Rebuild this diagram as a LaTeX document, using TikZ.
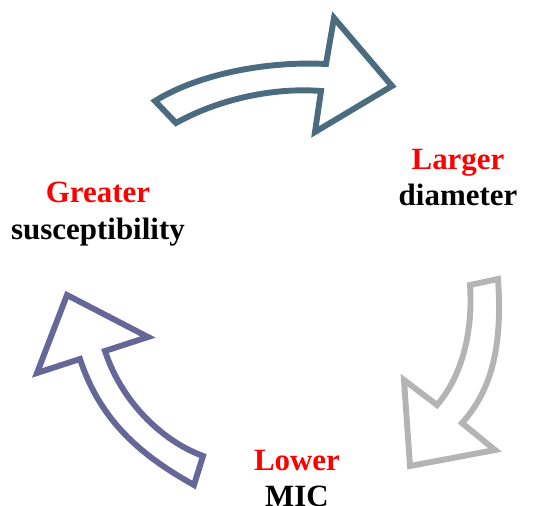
\documentclass[tikz,border=0pt]{standalone}
\usepackage{fontspec}
\setmainfont{Liberation Serif}
\usetikzlibrary{positioning}
\definecolor{CycTeal}{RGB}{74,107,128}
\definecolor{CycGray}{RGB}{180,180,180}
\definecolor{CycPurple}{RGB}{102,102,153}
\tikzset{
  cyc/arrow/.style={
    line width=4.2pt,
    line join=miter,
    fill=white
  },
  cyc/key/.style={
    font=\fontsize{22}{26}\selectfont\bfseries,
    text=red,
    anchor=base,
    inner sep=0pt
  },
  cyc/word/.style={
    font=\fontsize{22}{26}\selectfont\bfseries,
    text=black,
    anchor=base,
    inner sep=0pt
  }
}
\begin{document}
\begin{tikzpicture}[x=0.025cm,y=-0.025cm]
  \useasboundingbox (0,0) rectangle (533,506);
  % block arrows of the cycle
  \draw[cyc/arrow,draw=CycTeal] (155,101) .. controls (200,73) and (270,61) .. (326,64)
    -- (334,18) -- (392,86) -- (315,132) -- (321,91)
    .. controls (270,87) and (215,101) .. (176,123) -- cycle;
  \draw[cyc/arrow,draw=CycGray] (470,285) -- (498,279)
    .. controls (503,350) and (490,392) .. (462,423)
    -- (495,450) -- (410,466) -- (404,380) -- (437,405)
    .. controls (463,375) and (473,330) .. (470,285) -- cycle;
  \draw[cyc/arrow,draw=CycPurple] (203,456) -- (194,485)
    .. controls (140,455) and (100,420) .. (80,359)
    -- (37,373) -- (67,295) -- (148,337) -- (105,351)
    .. controls (121,400) and (160,440) .. (203,456) -- cycle;
  % labels
  \node[cyc/key] (larger) at (458,169) {Larger};
  \node[cyc/word] (diameter) at (458,205.5) {diameter};
  \node[cyc/key] (greater) at (98,202.5) {Greater};
  \node[cyc/word] (suscept) at (98,239) {susceptibility};
  \node[cyc/key] (lower) at (297,470) {Lower};
  \node[cyc/word] (mic) at (297,506.5) {MIC};
\end{tikzpicture}
\end{document}
